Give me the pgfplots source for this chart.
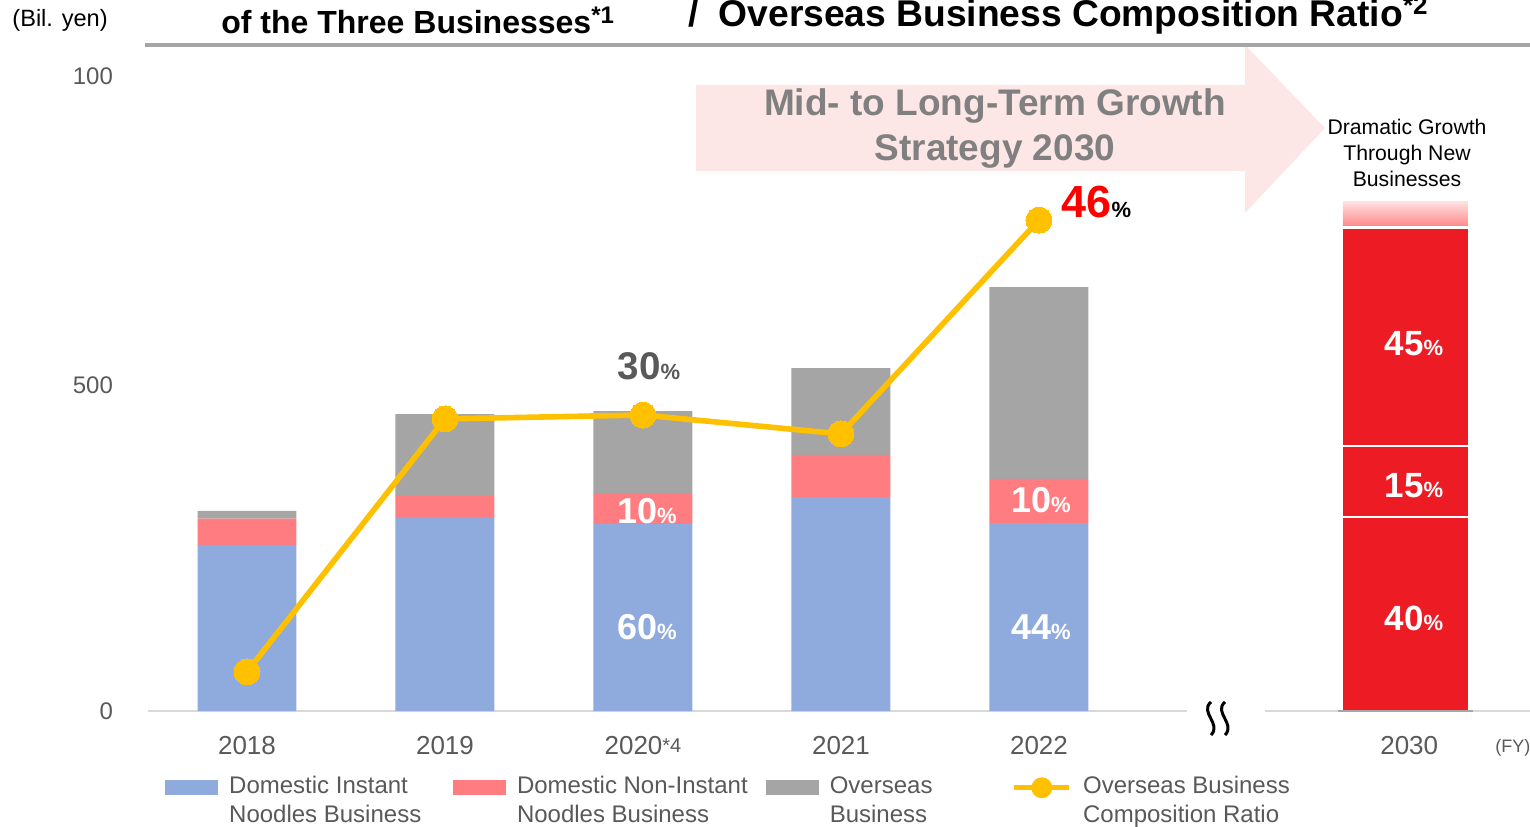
\documentclass[border=0pt]{standalone}
\usepackage{pgfplots}
\usepackage{pgfplotstable}
\pgfplotsset{compat=1.18}
\usepackage{fontspec}
\setmainfont{Liberation Sans}
\definecolor{blueC}{HTML}{8FAADC}
\definecolor{pinkC}{HTML}{FF7C80}
\definecolor{grayC}{HTML}{A5A5A5}
\definecolor{yellowC}{HTML}{FFC000}
\definecolor{redC}{HTML}{ED1C24}
\definecolor{arrowC}{HTML}{FDE6E6}
\definecolor{arrowTxt}{HTML}{808080}
\definecolor{tickC}{HTML}{595959}
\definecolor{lineC}{HTML}{A6A6A6}
\definecolor{baseC}{HTML}{D9D9D9}
\definecolor{gradTop}{HTML}{FFE2E2}
\definecolor{gradBot}{HTML}{FF8A8C}
\newcommand{\pct}[2]{{\fontsize{#2}{#2}\selectfont #1}{\fontsize{11}{11}\selectfont\%}}

\pgfplotstableread{
x    blue pink gray  ra  rb  rc
0    255  40   12    0   0   0
1    296  35   124.5 0   0   0
2    287  47   126   0   0   0
3    328  65   133   0   0   0
4    288  68   294   0   0   0
5.85 0    0    0     297 109 333
}\datatable

\pgfplotstableread{
x ratio
0 60
1 448
2 454
3 425
4 753
}\ratiotable

\begin{document}
\begin{tikzpicture}
\useasboundingbox (0,0) rectangle (765pt,413pt);
% decorations in pixel coordinates
\begin{scope}[x=0.5pt,y=-0.5pt,yshift=413pt]
  \fill[arrowC] (696,85) -- (1245,85) -- (1245,45) -- (1325,128) -- (1245,213) -- (1245,171) -- (696,171) -- cycle;
  \draw[line width=2pt, lineC] (145,45) -- (1530,45);
  \draw[line width=1pt, baseC] (148,711) -- (1187,711);
  \draw[line width=1pt, baseC] (1265,711) -- (1530,711);
  \draw[line width=1.5pt] (1211,702) .. controls (1199,712) and (1222,724) .. (1211,735);
  \draw[line width=1.5pt] (1225,702) .. controls (1213,712) and (1236,724) .. (1225,735);
  \node[anchor=base west, inner sep=0pt, font=\fontsize{11.8}{12}\selectfont] at (12,27) {(Bil. yen)};
  \node[anchor=base west, inner sep=0pt, font=\bfseries\fontsize{16}{17}\selectfont] at (221,34) {of the Three Businesses\raisebox{5pt}{\fontsize{12}{12}\selectfont *1}};
  \node[anchor=base west, inner sep=0pt, font=\bfseries\fontsize{18.6}{19}\selectfont] at (688,27) {/\hspace{10pt}Overseas Business Composition Ratio\raisebox{6pt}{\fontsize{13}{13}\selectfont *2}};
  \node[anchor=base, inner sep=0pt, text=arrowTxt, font=\bfseries\fontsize{18.5}{19}\selectfont] at (995,116) {Mid- to Long-Term Growth};
  \node[anchor=base, inner sep=0pt, text=arrowTxt, font=\bfseries\fontsize{18.5}{19}\selectfont] at (995,161) {Strategy 2030};
  \node[anchor=base, inner sep=0pt, font=\fontsize{10.6}{11}\selectfont] at (1407,134.5) {Dramatic Growth};
  \node[anchor=base, inner sep=0pt, font=\fontsize{10.6}{11}\selectfont] at (1407,160.5) {Through New};
  \node[anchor=base, inner sep=0pt, font=\fontsize{10.6}{11}\selectfont] at (1407,186.5) {Businesses};
  \node[anchor=base west, inner sep=0pt, text=tickC, font=\fontsize{9}{9}\selectfont] at (1495,752) {(FY)};
\end{scope}

\begin{axis}[
  at={(74pt,57.5pt)}, anchor=south west,
  scale only axis, width=691pt, height=333pt,
  xmin=-0.5, xmax=6.48, ymin=0, ymax=1021.5,
  ybar stacked, bar width=0.5,
  axis line style={draw=none}, major tick length=0pt,
  xtick={0,1,2,3,4,5.87},
  xticklabels={2018,2019,2020{\raisebox{1pt}{\fontsize{10}{10}\selectfont *4}},2021,2022,2030},
  ytick={0,500,974}, yticklabels={0,500,100},
  x tick label style={font=\fontsize{13}{13}\selectfont, text=tickC, yshift=-9pt},
  y tick label style={font=\fontsize{12}{12}\selectfont, text=tickC, xshift=-14pt},
]
\addplot[fill=blueC, draw=none] table[x=x,y=blue]{\datatable};
\addplot[fill=pinkC, draw=none] table[x=x,y=pink]{\datatable};
\addplot[fill=grayC, draw=none] table[x=x,y=gray]{\datatable};
\addplot[fill=redC, draw=none, bar width=0.631] table[x=x,y=ra]{\datatable};
\addplot[fill=redC, draw=none, bar width=0.631] table[x=x,y=rb]{\datatable};
\addplot[fill=redC, draw=none, bar width=0.631] table[x=x,y=rc]{\datatable};
\end{axis}

\begin{axis}[
  at={(74pt,57.5pt)}, anchor=south west,
  scale only axis, width=691pt, height=333pt,
  xmin=-0.5, xmax=6.48, ymin=0, ymax=1021.5,
  hide axis, clip=false,
  legend style={at={(0,0)}, anchor=north west, xshift=8.5pt, yshift=-32.5pt,
    draw=none, fill=none, inner sep=0pt, column sep=0pt, row sep=0pt,
    cells={anchor=base west}, nodes={inner sep=0pt, text=tickC}},
  legend columns=4,
]
% 2030 gradient top segment and separators
\addplot[draw=none, top color=gradTop, bottom color=gradBot, forget plot] coordinates {(5.5345,744) (6.1655,744) (6.1655,782) (5.5345,782)} -- cycle;
\addplot[white, line width=1pt, forget plot] coordinates {(5.5345,297) (6.1655,297)};
\addplot[white, line width=1pt, forget plot] coordinates {(5.5345,406) (6.1655,406)};
\addplot[lineC, line width=1pt, forget plot] coordinates {(5.51,0) (6.19,0)};

\addlegendimage{legend image code/.code={\fill[blueC] (0pt,-0.5pt) rectangle (26pt,6.5pt); \path (31.5pt,0pt);}}
\addlegendentry{\parbox[t]{112pt}{\fontsize{12}{14.5}\selectfont Domestic Instant\\Noodles Business}}
\addlegendimage{legend image code/.code={\fill[pinkC] (0pt,-0.5pt) rectangle (26pt,6.5pt); \path (31.5pt,0pt);}}
\addlegendentry{\parbox[t]{124.5pt}{\fontsize{12}{14.5}\selectfont Domestic Non-Instant\\Noodles Business}}
\addlegendimage{legend image code/.code={\fill[grayC] (0pt,-0.5pt) rectangle (26pt,6.5pt); \path (31.5pt,0pt);}}
\addlegendentry{\parbox[t]{91pt}{\fontsize{12}{14.5}\selectfont Overseas\\Business}}

\addplot[yellowC, line width=2.8pt, mark=*, mark size=6.5pt, mark options={fill=yellowC, draw=yellowC, line width=0pt},
  legend image code/.code={\draw[yellowC, line width=2.5pt] (0pt,3pt) -- (27.5pt,3pt); \fill[yellowC] (13.75pt,3pt) circle (3.8pt); \path (33pt,0pt);}]
  table[x=x,y=ratio]{\ratiotable};
\addlegendentry{\parbox[t]{120pt}{\fontsize{12}{14.5}\selectfont Overseas Business\\Composition Ratio}}

% data labels
\node[anchor=base, inner sep=0pt, text=tickC, font=\bfseries] at (axis cs:2.03,509) {\pct{30}{19.3}};
\node[anchor=base, inner sep=0pt, font=\bfseries] at (axis cs:4.29,757) {\textcolor{red}{\fontsize{22.5}{22.5}\selectfont 46}{\fontsize{11}{11}\selectfont\%}};
\node[anchor=base, inner sep=0pt, text=white, font=\bfseries] at (axis cs:2.02,288) {\pct{10}{18}};
\node[anchor=base, inner sep=0pt, text=white, font=\bfseries] at (axis cs:2.02,109) {\pct{60}{18}};
\node[anchor=base, inner sep=0pt, text=white, font=\bfseries] at (axis cs:4.01,304) {\pct{10}{18}};
\node[anchor=base, inner sep=0pt, text=white, font=\bfseries] at (axis cs:4.01,109) {\pct{44}{18}};
\node[anchor=base, inner sep=0pt, text=white, font=\bfseries] at (axis cs:5.894,546) {\pct{45}{17.5}};
\node[anchor=base, inner sep=0pt, text=white, font=\bfseries] at (axis cs:5.894,328) {\pct{15}{17.5}};
\node[anchor=base, inner sep=0pt, text=white, font=\bfseries] at (axis cs:5.894,124) {\pct{40}{17.5}};
\end{axis}
\end{tikzpicture}
\end{document}
